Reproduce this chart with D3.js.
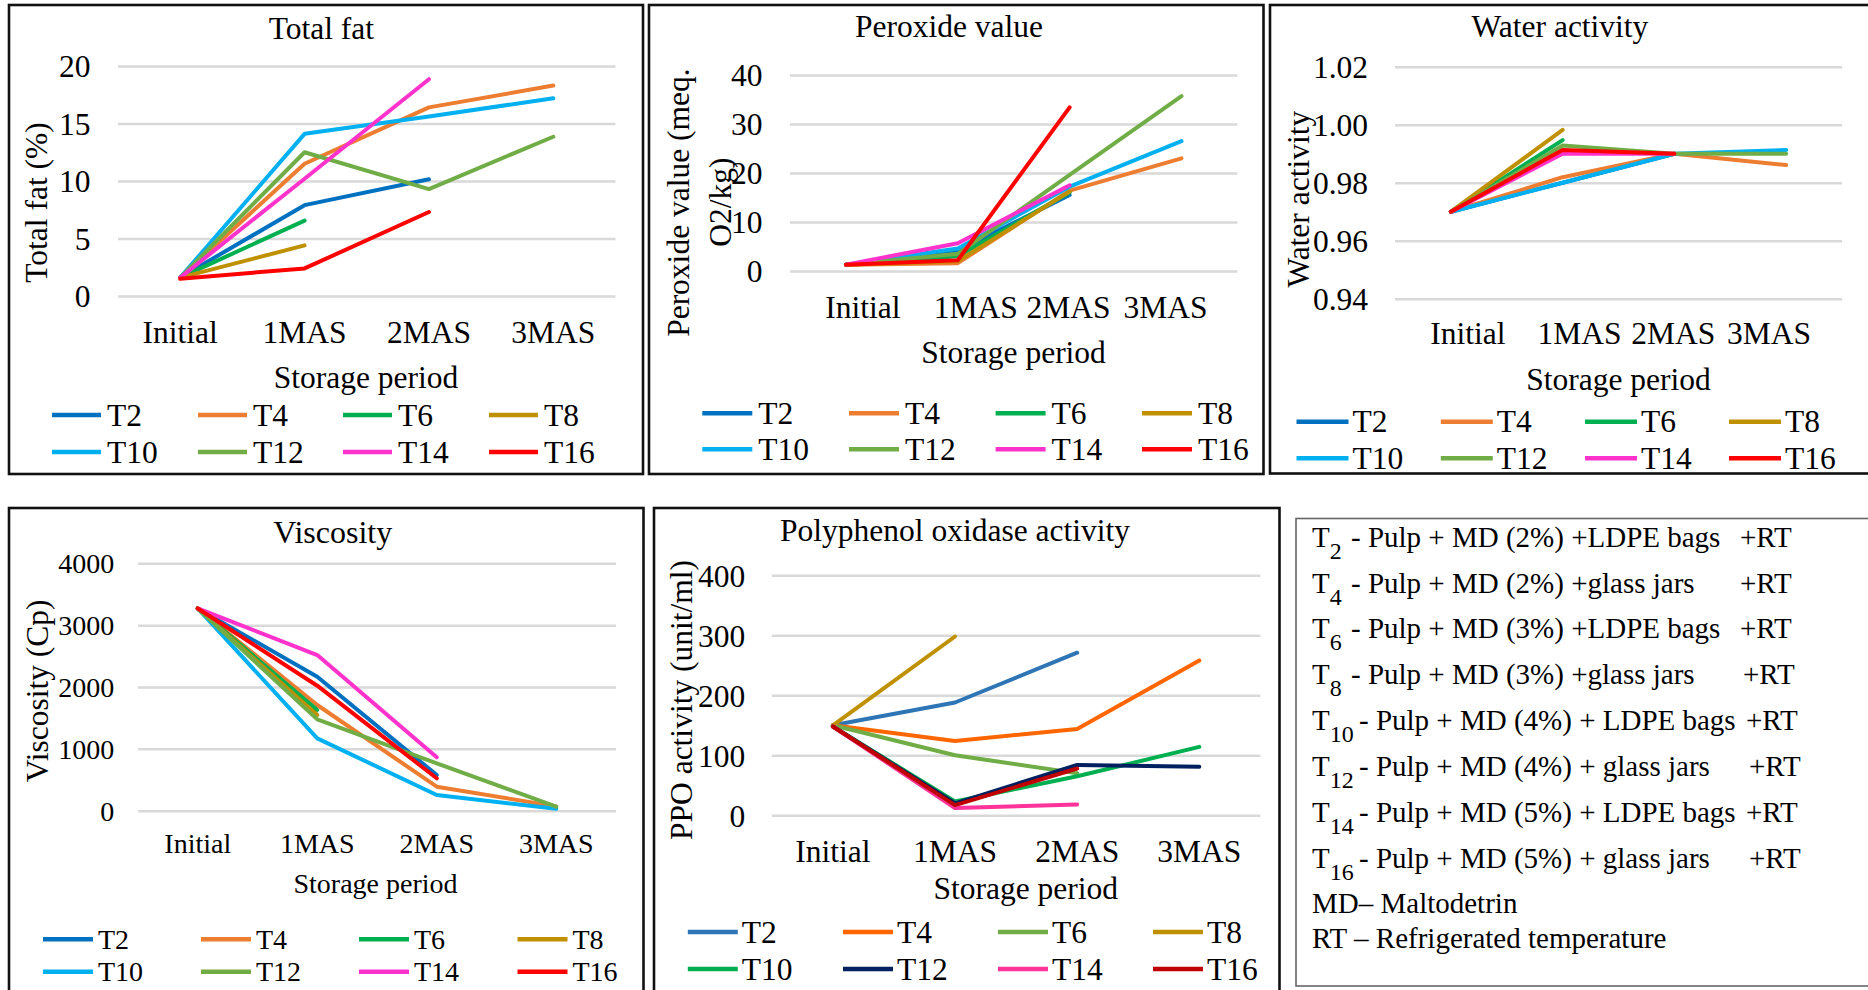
<!DOCTYPE html>
<html>
<head>
<meta charset="utf-8">
<script src="https://cdn.jsdelivr.net/npm/d3@7"></script>
<style>
  body { margin: 0; background: #fff; }
  svg { display: block; }
  text { font-family: "Liberation Serif", "Times New Roman", serif; fill: #000; }
</style>
</head>
<body>
<svg id="fig" width="1868" height="990"></svg>
<script>
// ---------- data ----------
const categories = ["Initial", "1MAS", "2MAS", "3MAS"];
const treatments = ["T2", "T4", "T6", "T8", "T10", "T12", "T14", "T16"];

// one row per treatment (T2 ... T16), one column per storage period
const totalFat = [
  [1.6, 7.9, 10.15, null],
  [1.6, 11.5, 16.4, 18.3],
  [1.6, 6.55, null, null],
  [1.6, 4.4, null, null],
  [1.6, 14.1, 15.6, 17.2],
  [1.6, 12.5, 9.3, 13.85],
  [1.6, 10.2, 18.85, null],
  [1.5, 2.4, 7.3, null]
];
const totalFatTicks = [0, 5, 10, 15, 20];

const peroxide = [
  [1.3, 4.1, 15.5, null],
  [1.3, 1.6, 16.4, 23.0],
  [1.3, 3.0, 16.0, null],
  [1.3, 2.0, 16.2, null],
  [1.3, 4.6, 17.2, 26.5],
  [1.3, 3.5, 19.6, 35.7],
  [1.3, 5.65, 17.5, null],
  [1.3, 2.2, 33.4, null]
];
const peroxideTicks = [0, 10, 20, 30, 40];

const waterActivity = [
  [0.970, 0.980, 0.990, null],
  [0.970, 0.9819, 0.990, 0.9861],
  [0.970, 0.9947, null, null],
  [0.970, 0.9982, null, null],
  [0.970, 0.980, 0.990, 0.9913],
  [0.970, 0.9928, 0.990, 0.990],
  [0.970, 0.990, 0.990, null],
  [0.970, 0.9913, 0.990, null]
];
const waterActivityTicks = [0.94, 0.96, 0.98, 1.00, 1.02];

const viscosity = [
  [3270, 2167, 577, null],
  [3270, 1709, 388, 70],
  [3270, 1628, null, null],
  [3270, 1547, null, null],
  [3270, 1170, 254, 30],
  [3270, 1477, 766, 65],
  [3270, 2517, 863, null],
  [3270, 2021, 524, null]
];
const viscosityTicks = [0, 1000, 2000, 3000, 4000];

const ppo = [
  [150, 188, 271, null],
  [150, 124, 144, 258],
  [150, 100, 70, null],
  [150, 298, null, null],
  [148, 23, 65, 114],
  [148, 20, 84, 81],
  [148, 12, 18, null],
  [148, 17, 78, null]
];
const ppoTicks = [0, 100, 200, 300, 400];

// treatment key
const keyCodes = ["2", "4", "6", "8", "10", "12", "14", "16"];
const keyTexts = [
  "- Pulp + MD (2%) +LDPE bags",
  "- Pulp + MD (2%) +glass jars",
  "- Pulp + MD (3%) +LDPE bags",
  "- Pulp + MD (3%) +glass jars",
  "- Pulp + MD (4%) + LDPE bags",
  "- Pulp + MD (4%) + glass jars",
  "- Pulp + MD (5%) + LDPE bags",
  "- Pulp + MD (5%) + glass jars"
];
const keySuffix = "+RT";
const keyNotes = ["MD\u2013 Maltodetrin", "RT \u2013 Refrigerated temperature"];

// ---------- styling ----------
const coloursMain = ["#0070C0", "#ED7D31", "#00B050", "#BF9000", "#00B0F0", "#70AD47", "#FF33CC", "#FF0000"];
const coloursPPO  = ["#2E75B6", "#FF6600", "#70AD47", "#BF9000", "#00B050", "#002060", "#FF3399", "#C00000"];

const F = 31.5;
const fontStd = { title: F, tick: F, cat: F, axis: F, yAxis: F, legend: F };
const fontSmall = { title: 32, tick: 28, cat: 28, axis: 28, yAxis: F, legend: 28 };

const panels = [
  {
    values: totalFat, ticks: totalFatTicks, domain: [0, 20], fmt: d3.format("d"), colours: coloursMain, font: fontStd,
    frame: [9, 5, 643, 474], title: ["Total fat", 321.4, 39.3],
    xRange: [118, 615.5], yRange: [296, 66], tickRight: 90.6,
    catBaseline: 343.3, labelShift: [0, 0, 0, 0], xTitle: [366, 388.3],
    yTitle: [["Total fat (%)", 36.5, 202.5]],
    legend: { cols: [52, 198, 343, 489], rows: [415, 452], sw: 49, textOff: 55 }
  },
  {
    values: peroxide, ticks: peroxideTicks, domain: [0, 40], fmt: d3.format("d"), colours: coloursMain, font: fontStd,
    frame: [649, 5, 1263.5, 474], title: ["Peroxide value", 949, 37.3],
    xRange: [790, 1237.4], yRange: [271, 75], tickRight: 762.5,
    catBaseline: 318.3, labelShift: [17, 18, -1, -16], xTitle: [1013.6, 362.7],
    yTitle: [["Peroxide value (meq.", 678.4, 202.6], ["O2/kg)", 720, 202]],
    legend: { cols: [702.3, 849, 995.6, 1142], rows: [413.3, 449.3], sw: 50, textOff: 56 }
  },
  {
    values: waterActivity, ticks: waterActivityTicks, domain: [0.94, 1.02], fmt: d3.format(".2f"), colours: coloursMain, font: fontStd,
    frame: [1270, 5, 1875, 473.5], title: ["Water activity", 1560, 37.3],
    xRange: [1395, 1842], yRange: [298.7, 66.7], tickRight: 1368,
    catBaseline: 344, labelShift: [17, 17, -1, -17], xTitle: [1618.5, 390],
    yTitle: [["Water activity", 1298.5, 199.2]],
    legend: { cols: [1296.5, 1440.8, 1585, 1729], rows: [421.7, 458.3], sw: 52, textOff: 56 }
  },
  {
    values: viscosity, ticks: viscosityTicks, domain: [0, 4000], fmt: d3.format("d"), colours: coloursMain, font: fontSmall,
    frame: [9, 508, 643.5, 1000], title: ["Viscosity", 332.7, 543.3],
    xRange: [138, 616], yRange: [810.7, 563.3], tickRight: 114.3,
    catBaseline: 852.7, labelShift: [0, 0, 0, 0], xTitle: [375.5, 892.7],
    yTitle: [["Viscosity (Cp)", 37.6, 690.8]],
    legend: { cols: [43, 201, 359, 517.5], rows: [939.3, 971.7], sw: 50, textOff: 55 }
  },
  {
    values: ppo, ticks: ppoTicks, domain: [0, 400], fmt: d3.format("d"), colours: coloursPPO, font: fontStd,
    frame: [654, 508, 1279.5, 1000], title: ["Polyphenol oxidase activity", 955, 540.7],
    xRange: [771.8, 1260.4], yRange: [815.3, 575.3], tickRight: 745.3,
    catBaseline: 862.3, labelShift: [0, 0, 0, 0], xTitle: [1025.7, 899],
    yTitle: [["PPO activity (unit/ml)", 681.6, 700]],
    legend: { cols: [687.8, 843, 998, 1153], rows: [932, 969], sw: 50, textOff: 54 }
  }
];

const svg = d3.select("#fig");
svg.append("rect").attr("width", 1868).attr("height", 990).attr("fill", "#fff");

function drawPanel(p) {
  const g = svg.append("g");
  const [fx0, fy0, fx1, fy1] = p.frame;

  g.append("rect")
    .attr("x", fx0).attr("y", fy0)
    .attr("width", fx1 - fx0).attr("height", fy1 - fy0)
    .attr("fill", "none").attr("stroke", "#111").attr("stroke-width", 2.6);

  const x = d3.scaleBand().domain(categories).range(p.xRange);
  const y = d3.scaleLinear().domain(p.domain).range(p.yRange);

  // horizontal gridlines with value labels
  const gy = g.append("g")
    .attr("transform", `translate(${p.xRange[0]},0)`)
    .call(d3.axisLeft(y).tickValues(p.ticks).tickFormat(p.fmt)
      .tickSize(-(p.xRange[1] - p.xRange[0])));
  gy.attr("font-family", null).attr("font-size", null);
  gy.select(".domain").remove();
  gy.selectAll(".tick line").attr("stroke", "#d9d9d9").attr("stroke-width", 2.5);
  gy.selectAll(".tick text")
    .attr("x", p.tickRight - p.xRange[0])
    .attr("dy", "0.34em")
    .style("font-size", p.font.tick + "px");

  // storage period labels
  const gx = g.append("g")
    .attr("transform", `translate(0,${p.catBaseline})`)
    .call(d3.axisBottom(x).tickSize(0).tickPadding(0));
  gx.attr("font-family", null).attr("font-size", null);
  gx.select(".domain").remove();
  gx.selectAll(".tick text")
    .attr("y", 0).attr("dy", 0)
    .attr("dx", (d, i) => p.labelShift[i])
    .style("font-size", p.font.cat + "px");

  // series lines
  const line = d3.line()
    .defined(v => v != null)
    .x((v, i) => x(categories[i]) + x.bandwidth() / 2)
    .y(v => y(v));
  g.append("g").selectAll("path")
    .data(p.values)
    .join("path")
    .attr("d", line)
    .attr("fill", "none")
    .attr("stroke", (d, i) => p.colours[i])
    .attr("stroke-width", 4)
    .attr("stroke-linejoin", "round")
    .attr("stroke-linecap", "round");

  // titles
  g.append("text")
    .attr("x", p.title[1]).attr("y", p.title[2])
    .attr("text-anchor", "middle")
    .style("font-size", p.font.title + "px")
    .text(p.title[0]);

  g.append("text")
    .attr("x", p.xTitle[0]).attr("y", p.xTitle[1])
    .attr("text-anchor", "middle")
    .style("font-size", p.font.axis + "px")
    .text("Storage period");

  p.yTitle.forEach(([txt, cx, cy]) => {
    g.append("text")
      .attr("transform", `translate(${cx},${cy}) rotate(-90)`)
      .attr("text-anchor", "middle")
      .attr("dominant-baseline", "central")
      .style("font-size", p.font.yAxis + "px")
      .text(txt);
  });

  // legend
  const lg = g.append("g").selectAll("g")
    .data(treatments)
    .join("g")
    .attr("transform", (d, i) =>
      `translate(${p.legend.cols[i % 4]},${p.legend.rows[Math.floor(i / 4)]})`);
  lg.append("line")
    .attr("x1", 0).attr("x2", p.legend.sw)
    .attr("stroke", (d, i) => p.colours[i])
    .attr("stroke-width", 4.5);
  lg.append("text")
    .attr("x", p.legend.textOff)
    .attr("dy", "0.34em")
    .style("font-size", p.font.legend + "px")
    .text(d => d);
}

panels.forEach(drawPanel);

// ---------- treatment key box ----------
const key = svg.append("g");
key.append("rect")
  .attr("x", 1296).attr("y", 518.5)
  .attr("width", 600).attr("height", 467.5)
  .attr("fill", "none").attr("stroke", "#666").attr("stroke-width", 1.6);

const keyFont = 29;
const keyBaselines = [546.7, 593.3, 638.3, 684.3, 730, 776, 822, 867.7];
const keyTextX = [1351, 1351, 1351, 1351, 1359, 1359, 1359, 1359];
const keySuffixX = [1740, 1740, 1740, 1743, 1746, 1749, 1746, 1749];

keyCodes.forEach((code, i) => {
  const t = key.append("text")
    .attr("y", keyBaselines[i])
    .style("font-size", keyFont + "px");
  t.append("tspan").attr("x", 1312).text("T");
  t.append("tspan").attr("dy", 12).style("font-size", "24px").text(code);
  t.append("tspan").attr("x", keyTextX[i]).attr("dy", -12).text(keyTexts[i]);
  t.append("tspan").attr("x", keySuffixX[i]).text(keySuffix);
});

const noteBaselines = [913.3, 948.3];
keyNotes.forEach((txt, i) => {
  key.append("text")
    .attr("x", 1312).attr("y", noteBaselines[i])
    .style("font-size", keyFont + "px")
    .text(txt);
});
</script>
</body>
</html>
